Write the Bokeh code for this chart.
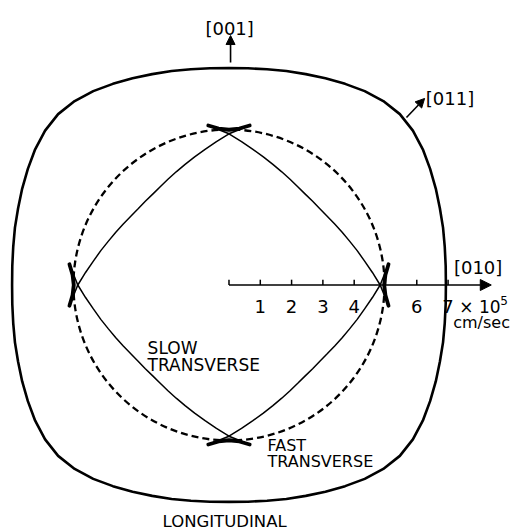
import numpy as np
from bokeh.plotting import figure
from bokeh.models import Range1d, Arrow, NormalHead
from bokeh.core.properties import value
from bokeh.embed import file_html
from bokeh.resources import INLINE

# Wave-velocity sheets in the (100) plane, in units of 1e5 cm/sec.
# One octant is listed (0 deg = [010], 45 deg = [011]); the cubic symmetry fills in the rest.
octant_deg = [0, 5, 10, 15, 20, 25, 30, 35, 40, 45]
longitudinal_r = [6.93, 6.95, 7.00, 7.08, 7.17, 7.29, 7.42, 7.56, 7.67, 7.72]
slow_r = [4.83, 4.60, 4.40, 4.24, 4.10, 3.99, 3.90, 3.83, 3.79, 3.78]
fast_r = 4.97

# Cusp around [010]: the slow sheet runs past its crossing to the tips,
# which are joined by the short bridging edge listed here.
cusp_deg = [-7.4, -3.8, 0.0, 3.8, 7.4]
cusp_r = [5.14, 5.01, 4.96, 5.01, 5.14]

# Velocity scale along [010]
tick_values = [0, 1, 2, 3, 4, 5, 6, 7]
tick_labels = ["", "1", "2", "3", "4", "", "6", "7"]

FONT = value("DejaVu Sans")


def polar(deg, r):
    a = np.radians(np.asarray(deg, dtype=float))
    r = np.asarray(r, dtype=float)
    return r * np.cos(a), r * np.sin(a)


def quadrant(deg, r):
    """Mirror a 0-45 deg octant about 45 deg to cover 0-90 deg."""
    d = list(deg) + [90 - a for a in reversed(deg[:-1])]
    rr = list(r) + list(reversed(r[:-1]))
    return d, rr


p = figure(width=512, height=531,
           x_range=Range1d(-7.30, 9.058), y_range=Range1d(-7.875, 9.089),
           output_backend="svg", toolbar_location=None, min_border=0,
           x_axis_location=None, y_axis_location=None)
p.grid.visible = False
p.outline_line_color = None
p.background_fill_color = "white"
p.border_fill_color = "white"

# Longitudinal sheet: closed rounded square
qd, qr = quadrant(octant_deg, longitudinal_r)
L_deg, L_r = [], []
for q in range(4):
    L_deg += [a + 90 * q for a in qd[:-1]]
    L_r += qr[:-1]
L_deg.append(L_deg[0]); L_r.append(L_r[0])
lx, ly = polar(L_deg, L_r)
p.line(lx, ly, line_color="black", line_width=2.6)

# Fast transverse sheet: dashed circle
p.circle(x=[0], y=[0], radius=fast_r, fill_color=None, line_color="black",
         line_width=2.3, line_dash="7 4")

# Slow transverse sheet: four branches, each running tip -> crossing -> arc -> crossing -> tip
sd, sr = quadrant(octant_deg, slow_r)
branch_deg = [cusp_deg[0]] + sd + [90 + cusp_deg[-1]]
branch_r = [cusp_r[0]] + sr + [cusp_r[-1]]
bxs, bys, cxs, cys, fxs, fys = [], [], [], [], [], []
for q in range(4):
    bx, by = polar([a + 90 * q for a in branch_deg], branch_r)
    bxs.append(bx); bys.append(by)
    cx, cy = polar([a + 90 * q for a in cusp_deg], cusp_r)
    cxs.append(cx); cys.append(cy)
    # small shaded swallowtail between the crossing and the bridging edge
    fdeg = [90 * q] + [a + 90 * q for a in reversed(cusp_deg)]
    frr = [slow_r[0]] + list(reversed(cusp_r))
    fx, fy = polar(fdeg, frr)
    fxs.append(fx); fys.append(fy)

p.patches(fxs, fys, fill_color="#d4d4d4", line_color=None)
p.multi_line(bxs, bys, line_color="black", line_width=1.5)
p.multi_line(cxs, cys, line_color="black", line_width=3.8, line_cap="round")

# Velocity scale along [010]
p.add_layout(Arrow(end=NormalHead(size=11, fill_color="black", line_color="black"),
                   x_start=0, y_start=0, x_end=8.38, y_end=0,
                   line_color="black", line_width=1.6))
p.segment(x0=tick_values, y0=[0] * len(tick_values), x1=tick_values,
          y1=[0.17] * len(tick_values), line_color="black", line_width=1.5)
p.text(x=tick_values, y=[-0.69] * len(tick_values), text=tick_labels,
       text_font=FONT, text_font_size="18px", text_align="center",
       text_baseline="middle", text_color="black")
p.text(x=[7.36], y=[-0.69], text=["× 10"], text_font=FONT, text_font_size="17px",
       text_align="left", text_baseline="middle", text_color="black")
p.text(x=[8.79], y=[-0.50], text=["5"], text_font=FONT, text_font_size="12px",
       text_align="center", text_baseline="middle", text_color="black")
p.text(x=[8.07], y=[-1.21], text=["cm/sec"], text_font=FONT, text_font_size="16px",
       text_align="center", text_baseline="middle", text_color="black")

# Crystal directions
p.add_layout(Arrow(end=NormalHead(size=9, fill_color="black", line_color="black"),
                   x_start=0.05, y_start=7.11, x_end=0.05, y_end=7.97,
                   line_color="black", line_width=1.6))
p.add_layout(Arrow(end=NormalHead(size=9, fill_color="black", line_color="black"),
                   x_start=5.67, y_start=5.35, x_end=6.25, y_end=5.96,
                   line_color="black", line_width=1.6))
p.text(x=[0.02, 7.06, 7.96], y=[8.21, 5.96, 0.57], text=["[001]", "[011]", "[010]"],
       text_font=FONT, text_font_size="18px", text_align="center",
       text_baseline="middle", text_color="black")

# Sheet labels
p.text(x=[-2.60, -2.60], y=[-2.01, -2.54], text=["SLOW", "TRANSVERSE"],
       text_font=FONT, text_font_size="17px", text_align="left",
       text_baseline="middle", text_color="black")
p.text(x=[1.23, 1.23], y=[-5.13, -5.64], text=["FAST", "TRANSVERSE"],
       text_font=FONT, text_font_size="16px", text_align="left",
       text_baseline="middle", text_color="black")
p.text(x=[-0.14], y=[-7.57], text=["LONGITUDINAL"], text_font=FONT,
       text_font_size="16.5px", text_align="center", text_baseline="middle",
       text_color="black")

open("out.html", "w").write(file_html(p, INLINE))
